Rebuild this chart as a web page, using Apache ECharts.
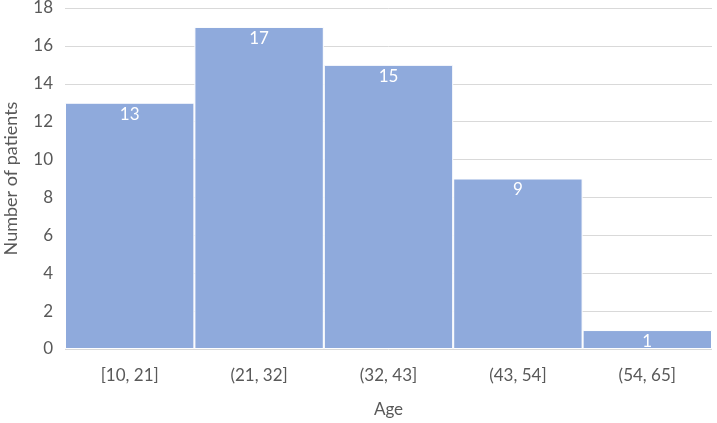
<!DOCTYPE html>
<html>
<head>
<meta charset="utf-8">
<script src="https://cdn.jsdelivr.net/npm/echarts@6/dist/echarts.min.js"></script>
<style>
  html, body { margin: 0; padding: 0; background: #fff; }
  #chart { width: 717px; height: 423px; }
</style>
</head>
<body>
<div id="chart"></div>
<script>
const ageBins = ["[10, 21]", "(21, 32]", "(32, 43]", "(43, 54]", "(54, 65]"];
const patientCounts = [13, 17, 15, 9, 1];

const chart = echarts.init(document.getElementById("chart"));
chart.setOption({
  animation: false,
  textStyle: { fontFamily: "Lato" },
  grid: { left: 65, right: 5, top: 8, bottom: 74, outerBoundsMode: "none" },
  xAxis: {
    type: "category",
    data: ageBins,
    name: "Age",
    nameLocation: "middle",
    nameGap: 52,
    nameTextStyle: { color: "#595959", fontSize: 17 },
    axisLine: { show: false },
    axisTick: { show: false },
    axisLabel: { color: "#595959", fontSize: 17, margin: 18 }
  },
  yAxis: {
    type: "value",
    min: 0,
    max: 18,
    interval: 2,
    name: "Number of patients",
    nameLocation: "middle",
    nameGap: 45,
    nameTextStyle: { color: "#595959", fontSize: 18 },
    axisLine: { show: false },
    axisTick: { show: false },
    axisLabel: { color: "#595959", fontSize: 17, margin: 12 },
    splitLine: { lineStyle: { color: "#d9d9d9", width: 1 } }
  },
  series: [{
    type: "bar",
    data: patientCounts,
    barCategoryGap: "0%",
    itemStyle: { color: "#8faadc", borderColor: "#ffffff", borderWidth: 1 },
    label: {
      show: true,
      position: "insideTop",
      distance: 3,
      color: "#ffffff",
      fontSize: 17
    }
  }]
});
</script>
</body>
</html>
